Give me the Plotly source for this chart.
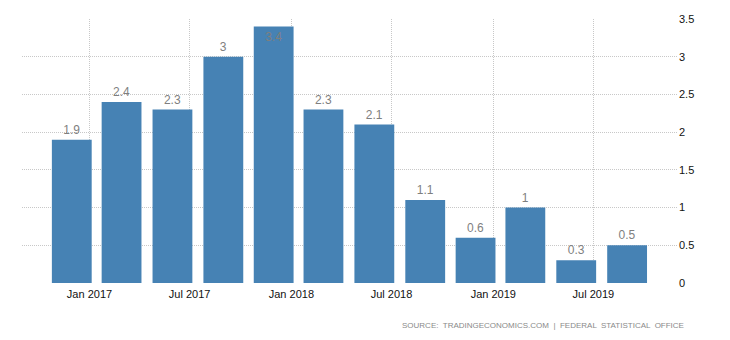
import plotly.graph_objects as go

# Quarterly GDP growth rate, year-on-year (%)
quarters = ["2016-11-30", "2017-02-28", "2017-05-31", "2017-08-31",
            "2017-11-30", "2018-02-28", "2018-05-31", "2018-08-31",
            "2018-11-30", "2019-02-28", "2019-05-31", "2019-08-31"]
growth = [1.9, 2.4, 2.3, 3.0, 3.4, 2.3, 2.1, 1.1, 0.6, 1.0, 0.3, 0.5]
labels = ["1.9", "2.4", "2.3", "3", "3.4", "2.3", "2.1", "1.1", "0.6", "1", "0.3", "0.5"]
y_ticks = [0, 0.5, 1, 1.5, 2, 2.5, 3, 3.5]
y_tick_text = ["0", "0.5", "1", "1.5", "2", "2.5", "3", "3.5"]
x_ticks = ["2017-01-01", "2017-07-01", "2018-01-01", "2018-07-01", "2019-01-01", "2019-07-01"]
x_tick_text = ["Jan 2017", "Jul 2017", "Jan 2018", "Jul 2018", "Jan 2019", "Jul 2019"]

y_max = 3.5
positions = ["inside" if v > y_max - 0.3 else "outside" for v in growth]

fig = go.Figure(go.Bar(
    x=quarters,
    y=growth,
    text=labels,
    textposition=positions,
    insidetextanchor="end",
    textfont=dict(color="#7f7f7f", size=12, family="Liberation Sans, Arial"),
    marker=dict(color="#4682b4", line=dict(width=0)),
    width=72 * 24 * 3600 * 1000,
    cliponaxis=False,
    hoverinfo="x+y",
))

grid_style = dict(showgrid=True, gridcolor="#c8c8c8", griddash="1px,1px", gridwidth=1,
                  zeroline=False, showline=False, ticks="")

fig.update_layout(
    width=730, height=340,
    margin=dict(l=22, r=52, t=19, b=57),
    paper_bgcolor="white", plot_bgcolor="white",
    showlegend=False,
    font=dict(family="Liberation Sans, Arial", size=11, color="#222"),
    xaxis=dict(
        type="date",
        range=["2016-09-01", "2019-12-01"],
        tickvals=x_ticks, ticktext=x_tick_text,
        ticklabelstandoff=3,
        tickfont=dict(size=11, color="#111"),
        **grid_style,
    ),
    yaxis=dict(
        side="right",
        range=[0, y_max],
        tickvals=y_ticks, ticktext=y_tick_text,
        tickfont=dict(size=11, color="#111"),
        **grid_style,
    ),
    annotations=[dict(
        text="SOURCE:  TRADINGECONOMICS.COM  |  FEDERAL  STATISTICAL  OFFICE",
        xref="paper", yref="paper", x=1.012, y=-0.160,
        xanchor="right", yanchor="middle", showarrow=False,
        font=dict(size=8, color="#8a8a8a", family="Liberation Sans, Arial"),
    )],
)

fig.write_html("out.html")
